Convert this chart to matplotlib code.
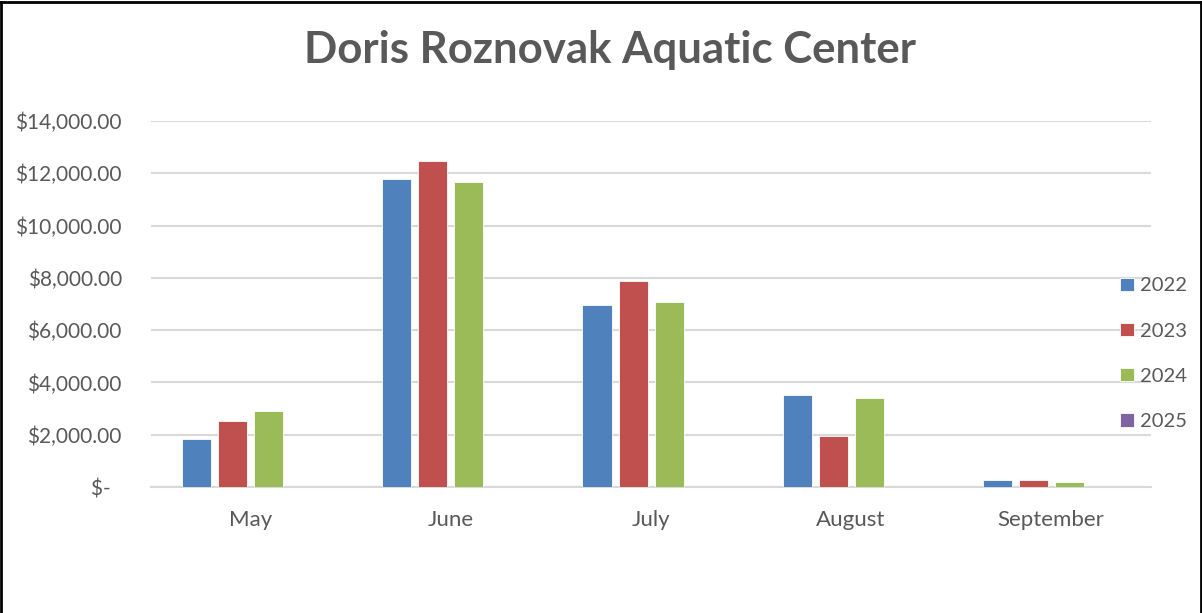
import matplotlib.pyplot as plt
import numpy as np
from matplotlib.ticker import FuncFormatter
from matplotlib.lines import Line2D

# data
months = ['May', 'June', 'July', 'August', 'September']
years = ['2022', '2023', '2024', '2025']
sales_2022 = [1830, 11790, 6950, 3510, 255]
sales_2023 = [2520, 12480, 7880, 1960, 270]
sales_2024 = [2890, 11650, 7070, 3420, 190]
sales_2025 = [np.nan, np.nan, np.nan, np.nan, np.nan]

colors = ['#4F81BD', '#C0504D', '#9BBB59', '#8064A2']
text_gray = '#595959'

plt.rcParams['font.family'] = ['Lato', 'DejaVu Sans']

fig = plt.figure(figsize=(12.02, 6.13), dpi=100)
ax = fig.add_axes([0.1256, 0.2055, 0.832, 0.597])

x = np.arange(len(months))
step = 0.18
width = 0.145
series = [sales_2022, sales_2023, sales_2024, sales_2025]
for i, (vals, col, yr) in enumerate(zip(series, colors, years)):
    ax.bar(x + (i - 1.5) * step, vals, width, color=col, label=yr,
           edgecolor='white', linewidth=0.6, zorder=3)

ax.set_xlim(-0.5, len(months) - 0.5)
ax.set_ylim(0, 14000)
ax.set_yticks(np.arange(0, 14001, 2000))


def money(v, pos):
    if v == 0:
        return '$-  '
    return '${:,.2f}'.format(v)


ax.yaxis.set_major_formatter(FuncFormatter(money))
ax.grid(axis='y', color='#d9d9d9', linewidth=1.5, zorder=0)
for s in ['top', 'right', 'left']:
    ax.spines[s].set_visible(False)
ax.spines['bottom'].set_color('#d9d9d9')
ax.spines['bottom'].set_linewidth(1.5)
ax.set_xticks(x)
ax.set_xticklabels(months)
ax.tick_params(axis='both', length=0, colors=text_gray)
ax.tick_params(axis='y', pad=21, labelsize=15)
ax.tick_params(axis='x', pad=16.5, labelsize=16)

fig.text(0.5075, 0.918, 'Doris Roznovak Aquatic Center', ha='center', va='center',
         fontsize=31.5, fontweight='bold', color=text_gray)

leg = fig.legend(loc='center left', bbox_to_anchor=(0.925, 0.423), frameon=False,
                 fontsize=14.5, handlelength=0.7, handleheight=0.65, handletextpad=0.3,
                 labelspacing=1.4, borderaxespad=0)
for t in leg.get_texts():
    t.set_color(text_gray)

# chart border (left, top, right)
fig.add_artist(Line2D([0.001, 0.001], [0, 0.997], color='black', linewidth=2,
                      transform=fig.transFigure))
fig.add_artist(Line2D([0.001, 0.999], [0.997, 0.997], color='black', linewidth=2,
                      transform=fig.transFigure))
fig.add_artist(Line2D([0.999, 0.999], [0, 0.997], color='black', linewidth=2,
                      transform=fig.transFigure))

plt.savefig('out.png', dpi=100)
plt.close()
